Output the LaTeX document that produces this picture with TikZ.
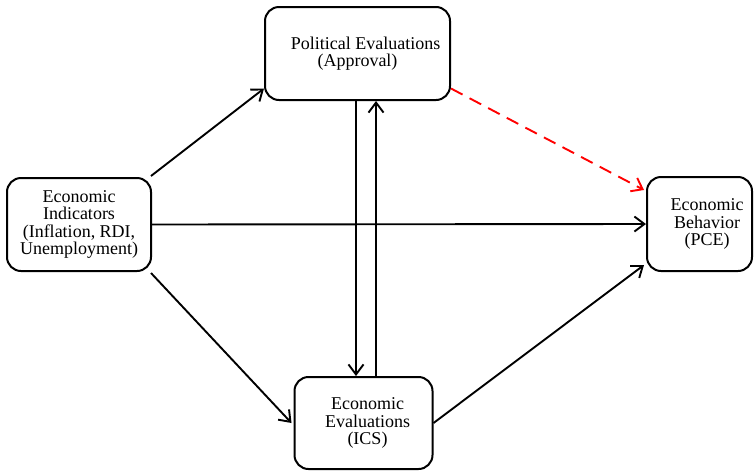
\documentclass[tikz,border=0pt]{standalone}
\usepackage{fontspec}
\setmainfont{Liberation Serif}
\usetikzlibrary{arrows.meta}
\begin{document}
\begin{tikzpicture}[x=1pt,y=-1pt,
  box/.style={draw, line width=2pt, rounded corners=14pt, align=center,
    inner sep=0pt, font=\fontsize{18}{17.5}\selectfont},
  arr/.style={line width=1.9pt, -{Straight Barb[length=10pt,width=15pt,line width=1.9pt]}},
  redarr/.style={arr, red, dash pattern=on 13pt off 8pt}]
\useasboundingbox (0,0) rectangle (754,472);
\node[box, minimum width=185pt, minimum height=93pt] (pol) at (357.5,53.5)
  {\hspace*{16pt}Political Evaluations\\(Approval)};
\node[box, minimum width=144pt, minimum height=93pt] (ind) at (79,224.5)
  {Economic\\Indicators\\(Inflation, RDI,\\Unemployment)};
\node[box, minimum width=105pt, minimum height=94pt] (beh) at (699.5,224)
  {\hspace*{15pt}Economic\\\hspace*{15pt}Behavior\\\hspace*{15pt}(PCE)};
\node[box, minimum width=138pt, minimum height=92pt] (eva) at (363.5,423)
  {\hspace*{8pt}Economic\\\hspace*{8pt}Evaluations\\\hspace*{8pt}(ICS)};
\draw[arr] ([xshift=-1pt,yshift=1pt]ind.north east) -- ([yshift=-35pt]pol.west);
\draw[arr] (ind.east) -- (beh.west);
\draw[arr] ([xshift=-1pt,yshift=-1pt]ind.south east) -- ([xshift=-2pt]eva.west);
\draw[arr] (eva.east) -- ([xshift=-2pt,yshift=-41pt]beh.west);
\draw[redarr] ([yshift=-35pt]pol.east) -- ([xshift=-2pt,yshift=34pt]beh.west);
\draw[arr] ([xshift=-1.5pt]pol.south) -- ([xshift=-7.5pt]eva.north);
\draw[arr] ([xshift=12.5pt]eva.north) -- ([xshift=18.5pt]pol.south);
\end{tikzpicture}
\end{document}
